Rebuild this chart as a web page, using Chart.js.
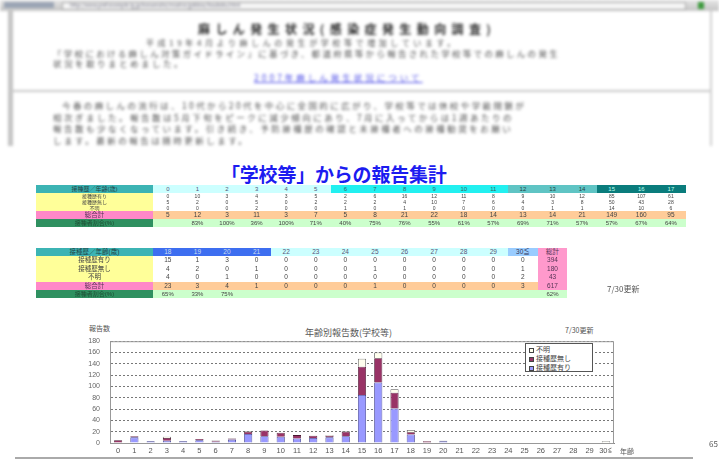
<!DOCTYPE html>
<html lang="ja">
<head>
<meta charset="utf-8">
<title>学校等からの報告集計</title>
<script src="https://cdn.jsdelivr.net/npm/chart.js@4.4.1/dist/chart.umd.min.js"></script>
<style>
  body { margin: 0; width: 719px; height: 464px; overflow: hidden; background: #fff; position: relative;
         font-family: "Noto Sans CJK JP", "Noto Sans", sans-serif; color: #444; }
  .abs { position: absolute; white-space: nowrap; }
  #shot { position: absolute; left: 0; top: 0; width: 719px; height: 146px; filter: blur(1.5px); }
  #shot .ln { position: absolute; white-space: nowrap; color: #4a4a4a; font-size: 8.5px; line-height: 8.5px; letter-spacing: 2.5px; }
  table.tbl { position: absolute; left: 36px; border-collapse: collapse; table-layout: fixed; filter: blur(0.4px);
              font-family: "Liberation Sans", "Noto Sans CJK JP", sans-serif; }
  table.tbl td { padding: 0; text-align: center; overflow: hidden; white-space: nowrap; }
  #legend { position: absolute; left: 525px; top: 343px; width: 68px; height: 29px; border: 1px solid #555;
            background: #fff; font-size: 7px; line-height: 9px; padding: 1px 0 0 3px; box-sizing: border-box; }
  #legend span.sw { display: inline-block; width: 5px; height: 5px; border: 1px solid #444; margin-right: 2px;
                    vertical-align: -1px; box-sizing: border-box; }
</style>
</head>
<body>

<div id="shot">
  <div class="abs" style="left:0;top:0;width:719px;height:11px;background:linear-gradient(#e6e6e6,#c4c4c4);"></div>
  <div class="abs" style="left:4px;top:2px;width:50px;height:6px;background:#9aa4b4;"></div>
  <div class="abs" style="left:62px;top:2px;width:622px;height:6px;background:#f6f6f6;border:1px solid #aaa;"></div>
  <div class="abs" style="left:70px;top:2px;font-size:5px;line-height:6px;color:#667;">http://www.pref.example.lg.jp/kansensho/mashin/gakkou/houkoku.html</div>
  <div class="abs" style="left:698px;top:2px;width:6px;height:7px;background:#3c9a3c;"></div>
  <div class="abs" style="left:8px;top:11px;width:5px;height:135px;background:#c4c4c4;"></div>
  <div class="abs" style="left:710px;top:11px;width:2px;height:135px;background:#d0d0d0;"></div>

  <div class="ln" style="left:198px;top:23px;font-size:12px;line-height:12px;font-weight:bold;letter-spacing:5.4px;color:#2a2a2a;">麻しん発生状況(感染症発生動向調査)</div>
  <div class="ln" style="left:146px;top:39px;font-size:8px;line-height:8px;letter-spacing:3.6px;">平成19年4月より麻しんの発生が学校等で増加しています。</div>
  <div class="ln" style="left:53px;top:49px;letter-spacing:2.3px;">「学校における麻しん対策ガイドライン」に基づき、都道府県等から報告された学校等での麻しんの発生</div>
  <div class="ln" style="left:53px;top:58.5px;">状況を取りまとめました。</div>
  <div class="ln" style="left:254px;top:73px;color:#4a4ae6;text-decoration:underline;letter-spacing:3px;">2007年麻しん発生状況について</div>
  <div class="abs" style="left:10px;top:90px;width:700px;height:2px;background:#c8c8c8;"></div>
  <div class="ln" style="left:62px;top:101px;letter-spacing:2.4px;">今春の麻しんの流行は、10代から20代を中心に全国的に広がり、学校等では休校や学級閉鎖が</div>
  <div class="ln" style="left:53px;top:113px;letter-spacing:2.5px;">相次ぎました。報告数は5月下旬をピークに減少傾向にあり、7月に入ってからは1週あたりの</div>
  <div class="ln" style="left:53px;top:124px;letter-spacing:2.5px;">報告数も少なくなっています。引き続き、予防接種歴の確認と未接種者への接種勧奨をお願い</div>
  <div class="ln" style="left:53px;top:136px;letter-spacing:2.5px;">します。最新の報告は随時更新します。</div>
</div>

<div class="abs" style="left:221px;top:160px;font-size:19px;font-weight:bold;color:#1c1cf0;letter-spacing:-0.2px;">「学校等」からの報告集計</div>

<table class="tbl" id="t1" style="top:185px;"></table>
<table class="tbl" id="t2" style="top:248px;"></table>
<div class="abs" style="left:607px;top:283px;font-size:8px;color:#555;filter:blur(0.4px);">7/30更新</div>

<div class="abs" style="left:89px;top:323px;font-size:7px;color:#555;">報告数</div>
<div class="abs" style="left:305px;top:326px;font-size:9px;color:#555;">年齢別報告数(学校等)</div>
<div class="abs" style="left:565px;top:325px;font-size:7px;color:#555;">7/30更新</div>
<canvas id="chart" class="abs" style="left:70px;top:327px;" width="560" height="131"></canvas>
<div id="legend"></div>
<div class="abs" style="left:620px;top:446px;font-size:7px;color:#555;">年齢</div>
<div class="abs" style="left:15px;top:457px;width:678px;height:2px;background:#aaa;"></div>
<div class="abs" style="left:709px;top:438px;font-size:8px;color:#555;">65</div>

<script>
// ages shown in the two tables and along the chart's x axis
const agesTop = ['0','1','2','3','4','5','6','7','8','9','10','11','12','13','14','15','16','17'];
const agesBottom = ['18','19','20','21','22','23','24','25','26','27','28','29','30≦'];
const ageLabels = agesTop.concat(agesBottom);

const seriesNames = ['接種歴有り', '接種歴無し', '不明'];
const vaccinated   = [0,10,3,4,3,5,2,6,16,12,11,8,9,10,12,85,107,61, 15,1,3,0,0,0,0,0,0,0,0,0,0];
const unvaccinated = [5,2,0,5,0,2,2,2,4,10,7,6,4,3,8,50,43,28, 4,2,0,1,0,0,0,1,0,0,0,0,1];
const unknown      = [0,0,0,2,0,0,1,0,1,0,0,0,0,1,1,14,10,6, 4,0,1,0,0,0,0,0,0,0,0,0,2];
const rates = ['','83%','100%','36%','100%','71%','40%','75%','76%','55%','61%','57%','69%','71%','57%','57%','67%','64%',
               '65%','33%','75%','','','','','','','','','',''];
// 総計 column as printed
const grandTotals = [394, 180, 43, 617];
const grandRate = '62%';

const seriesColors = ['#9999ff', '#993366', '#ffffee'];
const seriesBorders = ['#3a3a8c', '#4a1830', '#555555'];

// ---- tables ----
const totals = ageLabels.map((_, i) => vaccinated[i] + unvaccinated[i] + unknown[i]);

function headColor(age) {
  const n = parseInt(age, 10);
  if (age === '30≦') return ['#99ccff', '#335'];
  if (n <= 5) return ['#ccffff', '#557'];
  if (n <= 11) return ['#22f0f0', '#366'];
  if (n <= 14) return ['#5fc4c4', '#244'];
  if (n <= 17) return ['#0a7c7c', '#bfe'];
  if (n <= 21) return ['#3d6ef0', '#cde'];
  return ['#ccffff', '#557'];
}

// heights: row heights, sizes: font size of each row
function buildTable(id, from, to, withTotal, heights, sizes) {
  const t = document.getElementById(id);
  const n = to - from;
  let html = '<colgroup><col style="width:117px">';
  for (let i = 0; i < n + (withTotal ? 1 : 0); i++) html += '<col style="width:29.6px">';
  html += '</colgroup>';
  const cell = (txt, bg, fg) => `<td style="background:${bg};color:${fg || '#444'}">${txt}</td>`;
  const tr = r => `<tr style="height:${heights[r]}px;font-size:${sizes[r]}px;line-height:${heights[r]}px">`;

  html += tr(0) + cell('接種歴／年齢(歳)', '#3cb4b4', '#244');
  for (let i = from; i < to; i++) { const c = headColor(ageLabels[i]); html += cell(ageLabels[i], c[0], c[1]); }
  if (withTotal) html += cell('総計', '#ff99cc', '#535');
  html += '</tr>';

  [vaccinated, unvaccinated, unknown].forEach((arr, r) => {
    html += tr(1 + r) + cell(seriesNames[r], '#ffff99');
    for (let i = from; i < to; i++) html += cell(arr[i], '#fff');
    if (withTotal) html += cell(grandTotals[r], '#ff99cc', '#535');
    html += '</tr>';
  });

  html += tr(4) + cell('総合計', '#ff88c8', '#535');
  for (let i = from; i < to; i++) html += cell(totals[i], '#ffcc99');
  if (withTotal) html += cell(grandTotals[3], '#ff99cc', '#535');
  html += '</tr>';

  html += tr(5) + cell('接種者割合(%)', '#2f9060', '#1d4d33');
  for (let i = from; i < to; i++) html += cell(rates[i], '#ccffcc');
  if (withTotal) html += cell(grandRate, '#ccffcc');
  html += '</tr>';
  t.innerHTML = html;
}

buildTable('t1', 0, agesTop.length, false, [8, 6, 6, 6, 8, 8], [6, 5, 5, 5, 6.5, 6]);
buildTable('t2', agesTop.length, ageLabels.length, true, [8, 8.6, 8.6, 8.6, 8, 8], [6.5, 6.5, 6.5, 6.5, 6.5, 6]);

// ---- legend (reverse order, like the original) ----
const legend = document.getElementById('legend');
legend.innerHTML = [2, 1, 0].map(i =>
  `<div><span class="sw" style="background:${seriesColors[i]}"></span>${seriesNames[i]}</div>`).join('');

// ---- chart ----
const frame = {
  id: 'frame',
  afterDatasetsDraw(chart) {
    const a = chart.chartArea, ctx = chart.ctx;
    ctx.save();
    ctx.strokeStyle = '#999';
    ctx.lineWidth = 1;
    ctx.strokeRect(a.left + 0.5, a.top + 0.5, a.right - a.left - 1, a.bottom - a.top);
    ctx.restore();
  }
};

new Chart(document.getElementById('chart'), {
  type: 'bar',
  data: {
    labels: ageLabels,
    datasets: [vaccinated, unvaccinated, unknown].map((d, i) => ({
      label: seriesNames[i],
      data: d,
      backgroundColor: seriesColors[i],
      borderColor: seriesBorders[i],
      borderWidth: 0.8,
      barPercentage: 0.5,
      categoryPercentage: 1
    }))
  },
  options: {
    responsive: false,
    animation: false,
    layout: { padding: { top: 5, right: 16, left: 0, bottom: 0 } },
    plugins: { legend: { display: false }, tooltip: { enabled: false } },
    scales: {
      x: {
        stacked: true,
        grid: { display: false, drawTicks: false },
        border: { color: '#888' },
        ticks: { font: { size: 7.5 }, color: '#555', padding: 3, autoSkip: false, maxRotation: 0 }
      },
      y: {
        stacked: true,
        min: 0,
        max: 180,
        grid: { color: '#777', drawTicks: false },
        border: { color: '#888', dash: [2, 2] },
        ticks: { stepSize: 20, font: { size: 7 }, color: '#666', padding: 10, autoSkip: false },
        afterFit(s) { s.width = 40; }
      }
    }
  },
  plugins: [frame]
});
</script>
</body>
</html>
